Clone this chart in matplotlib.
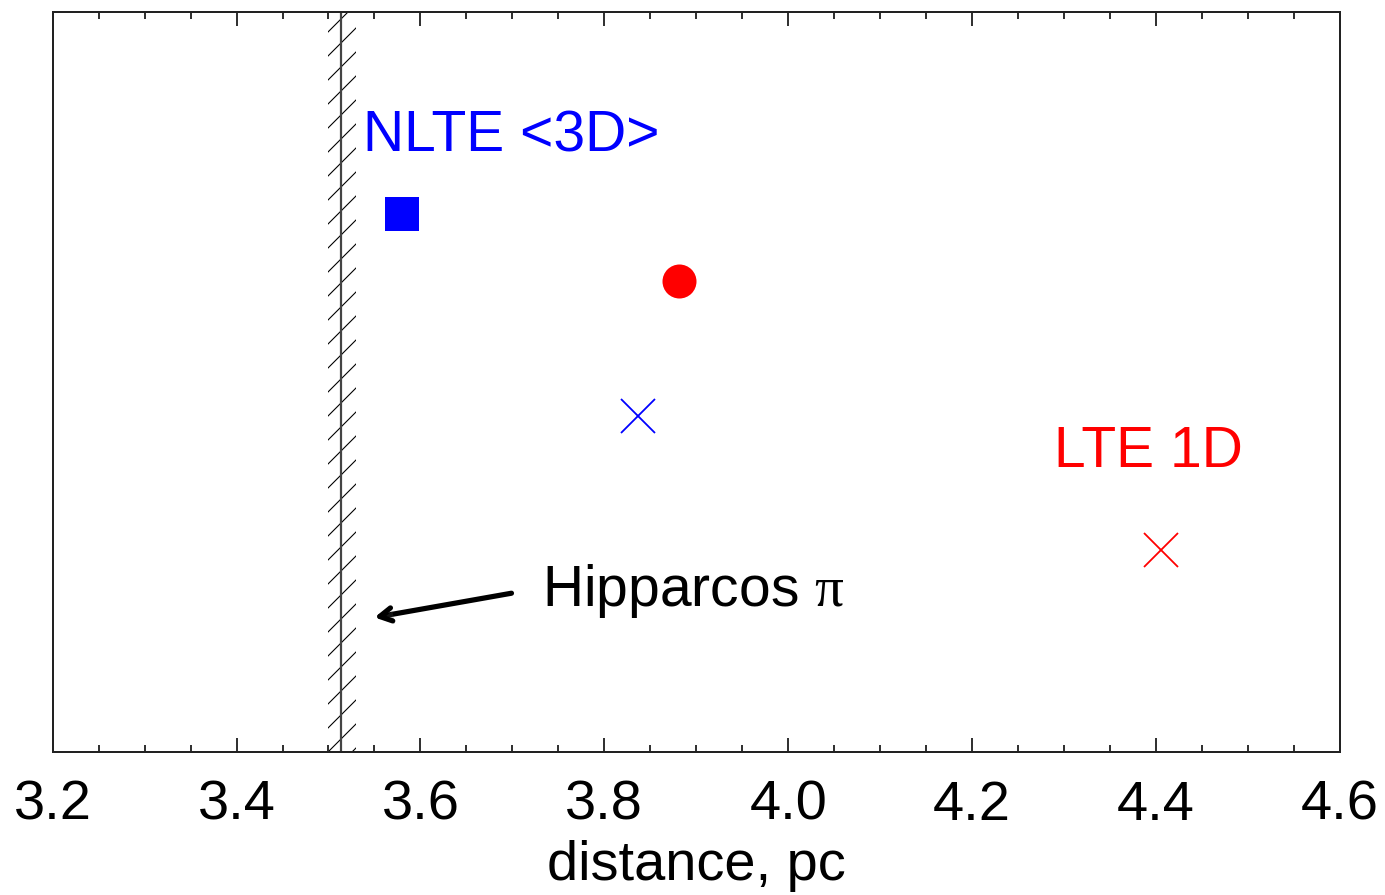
import matplotlib
matplotlib.use("Agg")
import matplotlib.pyplot as plt
import matplotlib.patheffects as pe
from matplotlib.ticker import MultipleLocator

# distance estimates (pc) and their row on the plot
nlte3d_dist, nlte3d_row = 3.58, 4.0
nlte1d_dist, nlte1d_row = 3.881, 3.5
lte3d_dist, lte3d_row = 3.837, 2.5
lte1d_dist, lte1d_row = 4.405, 1.5

# Hipparcos parallax distance and its error band
hip_dist = 3.514
hip_lo, hip_hi = 3.50, 3.53

xlim = (3.2, 4.6)
ylim = (0.0, 5.5)

plt.rcParams['font.family'] = ['Liberation Sans', 'DejaVu Sans']
plt.rcParams['mathtext.fontset'] = 'custom'
plt.rcParams['mathtext.rm'] = 'Liberation Serif'
plt.rcParams['hatch.linewidth'] = 0.55

dpi = 144
fig = plt.figure(figsize=(1385 / dpi, 895 / dpi), dpi=dpi)
ax = fig.add_axes([0.038, 0.1598, 0.9295, 0.8268])

# Hipparcos band
ax.fill_betweenx(ylim, hip_lo, hip_hi, facecolor='none', edgecolor='black',
                 hatch='//', linewidth=0)
ax.axvline(hip_dist, color='#444444', lw=1.1)

ax.plot(nlte3d_dist, nlte3d_row, 's', color='blue', ms=17, mew=0)
ax.plot(nlte1d_dist, nlte1d_row, 'o', color='red', ms=17, mew=0)
ax.plot(lte3d_dist, lte3d_row, 'x', color='blue', ms=17, mew=0.9)
ax.plot(lte1d_dist, lte1d_row, 'x', color='red', ms=17, mew=0.9)

ax.text(3.5375, 4.46, 'NLTE <3D>', color='blue', fontsize=28.5, va='baseline')
ax.text(4.2895, 2.12, 'LTE 1D', color='red', fontsize=28.5, va='baseline')
ax.text(3.732, 1.085, r'Hipparcos $\mathrm{\pi}$', color='black', fontsize=28.5,
        va='baseline')
ax.annotate('', xy=(3.550, 1.0), xytext=(3.699, 1.18),
            arrowprops=dict(arrowstyle='->,head_length=0.6,head_width=0.33',
                            color='black', lw=2.6, shrinkA=0, shrinkB=0,
                            path_effects=[pe.withSimplePatchShadow(
                                offset=(1, -1.5), alpha=0.25)]))

ax.set_xlim(*xlim)
ax.set_ylim(*ylim)
ax.xaxis.set_major_locator(MultipleLocator(0.2))
ax.xaxis.set_minor_locator(MultipleLocator(0.05))
ax.xaxis.set_major_formatter(plt.FormatStrFormatter('%.1f'))
ax.set_yticks([])
ax.tick_params(axis='x', which='major', direction='in', top=True, length=7,
               width=1.0, labelsize=28, pad=14, color='#333333')
ax.tick_params(axis='x', which='minor', direction='in', top=True, length=3.5,
               width=1.0, color='#333333')
for s in ax.spines.values():
    s.set_linewidth(1.0)
    s.set_color('#222222')
ax.set_xlabel('distance, pc', fontsize=28, labelpad=4)

fig.savefig('out.png', dpi=dpi)
